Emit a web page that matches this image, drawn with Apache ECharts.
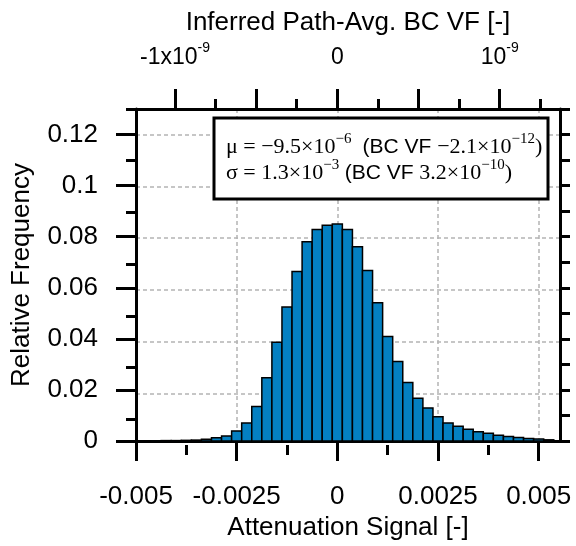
<!DOCTYPE html>
<html><head><meta charset="utf-8">
<script src="https://cdn.jsdelivr.net/npm/echarts@6/dist/echarts.min.js"></script>
<style>html,body{margin:0;padding:0;background:#fff}#c{width:576px;height:546px}</style>
</head><body><div id="c"></div>
<script>
// ---- data ----
const binCenters = [-0.0045,-0.00425,-0.004,-0.00375,-0.0035,-0.00325,-0.003,-0.00275,-0.0025,-0.00225,
  -0.002,-0.00175,-0.0015,-0.00125,-0.001,-0.00075,-0.0005,-0.00025,0,
  0.00025,0.0005,0.00075,0.001,0.00125,0.0015,0.00175,0.002,0.00225,0.0025,
  0.00275,0.003,0.00325,0.0035,0.00375,0.004,0.00425,0.0045,0.00475,0.005,0.00525];
const relFreq = [0.0001,0.0002,0.0002,0.0003,0.0004,0.0007,0.0013,0.0020,0.0040,0.0071,
  0.0135,0.0248,0.0387,0.0525,0.0664,0.0780,0.0828,0.0845,0.0850,
  0.0828,0.0761,0.0668,0.0542,0.0409,0.0312,0.0229,0.0168,0.0130,0.0095,
  0.0071,0.0058,0.0046,0.0037,0.0031,0.0023,0.0018,0.0014,0.0010,0.0008,0.0005];
const binWidth = 0.00025;

const bottomTicks = [-0.005,-0.0025,0,0.0025,0.005];
const bottomTickLabels = ['-0.005','-0.0025','0','0.0025','0.005'];
const bottomMinor = [-0.00375,-0.00125,0.00125,0.00375];
const leftTicks = [0,0.02,0.04,0.06,0.08,0.1,0.12];
const leftTickLabels = ['0','0.02','0.04','0.06','0.08','0.1','0.12'];
const leftMinor = [0.01,0.03,0.05,0.07,0.09,0.11,0.13];
const rightTicks = [0,0.01,0.02,0.03,0.04,0.05,0.06,0.07,0.08,0.09,0.1,0.11,0.12,0.13];
const topTicks = [-1e-9,-0.5e-9,0,0.5e-9,1e-9];
const topLabelValues = [-1e-9,0,1e-9];
const topLabelBase = ['-1x10','0','10'];
const topLabelExp = ['-9','','-9'];
const topMinor = [-0.75e-9,-0.25e-9,0.25e-9,0.75e-9,1.25e-9];

const X_MIN = -0.005, X_MAX = 0.00553, Y_MIN = 0, Y_MAX = 0.13;
const VF_PER_SIGNAL = 2.48e-7;

// ---- chart ----
const SANS = 'Liberation Sans, Arial, sans-serif';
const SERIF = 'Liberation Serif, Times New Roman, serif';
const BLACK = '#000';
const chart = echarts.init(document.getElementById('c'), null, {renderer:'canvas'});

function idxNear(arr, v, tol) {
  for (let i = 0; i < arr.length; i++) if (Math.abs(arr[i] - v) < tol) return i;
  return -1;
}
const thick = {color:BLACK, width:3};
const G = {left:136, right:16, top:109, bottom:101, containLabel:false};
function hiddenAxis(extra) {
  return Object.assign({type:'value', axisLine:{show:false, onZero:false}, axisTick:{show:false},
    axisLabel:{show:false}, splitLine:{show:false}}, extra);
}
function tickOnly(extra, values, len) {
  return hiddenAxis(Object.assign(extra, {axisTick:{show:true, customValues:values, length:len, inside:false, lineStyle:thick}}));
}
const gridLine = {show:true, showMinLine:false, showMaxLine:false,
  lineStyle:{color:'#b4b4b4', width:1.5, type:[4,3]}};

const option = {
  backgroundColor:'#fff',
  animation:false,
  grid:[Object.assign({}, G), Object.assign({}, G), Object.assign({}, G)],
  xAxis:[
    // 0: grid lines (grid 0)
    hiddenAxis({gridIndex:0, min:X_MIN, max:X_MAX, interval:0.0025, position:'bottom', splitLine:gridLine}),
    // 1: bottom main (grid 1)
    {type:'value', gridIndex:1, min:X_MIN, max:X_MAX, position:'bottom',
     axisLine:{show:true, onZero:false, lineStyle:thick},
     axisTick:{show:true, customValues:bottomTicks, length:20, inside:false, lineStyle:thick},
     axisLabel:{show:true, customValues:bottomTicks, margin:43, color:BLACK, fontSize:26, fontFamily:SANS,
       formatter:(v)=>{const i=idxNear(bottomTicks,v,1e-9); return i>=0?bottomTickLabels[i]:'';}},
     splitLine:{show:false},
     name:'Attenuation Signal [-]', nameLocation:'middle', nameGap:72,
     nameTextStyle:{color:BLACK, fontSize:26, fontFamily:SANS}},
    // 2: top main (grid 1)
    {type:'value', gridIndex:1, min:X_MIN*VF_PER_SIGNAL, max:X_MAX*VF_PER_SIGNAL, position:'top',
     axisLine:{show:true, onZero:false, lineStyle:thick},
     axisTick:{show:true, customValues:topTicks, length:20, inside:false, lineStyle:thick},
     axisLabel:{show:true, customValues:topLabelValues, margin:34, color:BLACK, fontFamily:SANS,
       formatter:(v)=>{const i=idxNear(topLabelValues,v,1e-13); if(i<0) return '';
         return topLabelExp[i] ? '{b|'+topLabelBase[i]+'}{s|'+topLabelExp[i]+'}' : '{b|'+topLabelBase[i]+'}';},
       rich:{b:{fontSize:23, lineHeight:34, fontFamily:SANS, color:BLACK, verticalAlign:'middle'},
             s:{fontSize:14, lineHeight:14, fontFamily:SANS, color:BLACK, verticalAlign:'top'}}},
     splitLine:{show:false},
     name:'Inferred Path-Avg. BC VF [-]', nameLocation:'middle', nameGap:69,
     nameTextStyle:{color:BLACK, fontSize:26, fontFamily:SANS}},
    // 3: bottom minor (grid 2)
    tickOnly({gridIndex:2, min:X_MIN, max:X_MAX, position:'bottom'}, bottomMinor, 10),
    // 4: top minor (grid 2)
    tickOnly({gridIndex:2, min:X_MIN*VF_PER_SIGNAL, max:X_MAX*VF_PER_SIGNAL, position:'top'}, topMinor, 10)
  ],
  yAxis:[
    // 0: grid lines (grid 0)
    hiddenAxis({gridIndex:0, min:Y_MIN, max:Y_MAX, interval:0.02, position:'left', splitLine:gridLine}),
    // 1: left main (grid 1)
    {type:'value', gridIndex:1, min:Y_MIN, max:Y_MAX, position:'left',
     axisLine:{show:true, onZero:false, lineStyle:thick},
     axisTick:{show:true, customValues:leftTicks, length:20, inside:false, lineStyle:thick},
     axisLabel:{show:true, customValues:leftTicks, margin:38, color:BLACK, fontSize:26, fontFamily:SANS,
       formatter:(v)=>{const i=idxNear(leftTicks,v,1e-6); return i>=0?leftTickLabels[i]:'';}},
     splitLine:{show:false},
     name:'Relative Frequency', nameLocation:'middle', nameGap:101, nameRotate:90,
     nameTextStyle:{color:BLACK, fontSize:26, fontFamily:SANS}},
    // 2: right (grid 1)
    {type:'value', gridIndex:1, min:Y_MIN, max:Y_MAX, position:'right',
     axisLine:{show:true, onZero:false, lineStyle:thick},
     axisTick:{show:true, customValues:rightTicks, length:10, inside:false, lineStyle:thick},
     axisLabel:{show:false}, splitLine:{show:false}},
    // 3: left minor (grid 2)
    tickOnly({gridIndex:2, min:Y_MIN, max:Y_MAX, position:'left'}, leftMinor, 10)
  ],
  series:[{
    type:'custom', xAxisIndex:1, yAxisIndex:1, clip:false,
    data: binCenters.map((c,i)=>[c, relFreq[i]]),
    encode:{x:0, y:1},
    renderItem:(params, api)=>{
      const c = api.value(0), v = api.value(1);
      const p1 = api.coord([c - binWidth/2, v]);
      const p2 = api.coord([c + binWidth/2, 0]);
      return {type:'rect', shape:{x:p1[0], y:p1[1], width:p2[0]-p1[0], height:p2[1]-p1[1]},
        style:{fill:'#0480c2', stroke:BLACK, lineWidth:1.5}};
    }
  }],
  graphic:[
    {type:'rect', z:100, shape:{x:214, y:118, width:334, height:81},
     style:{fill:'#fff', stroke:BLACK, lineWidth:3}},
    {type:'text', z:101, x:226, y:147,
     style:{text:'{m|μ = −9.5×10}{s|−6}{m|  }{a|(BC VF }{m|−2.1×10}{s|−12}{m|)}',
       verticalAlign:'middle', align:'left',
       rich:{m:{fontFamily:SERIF, fontSize:22, lineHeight:30, verticalAlign:'middle', fill:BLACK},
             a:{fontFamily:SANS, fontSize:21, lineHeight:30, verticalAlign:'middle', fill:BLACK},
             s:{fontFamily:SERIF, fontSize:15, lineHeight:15, verticalAlign:'top', fill:BLACK}}}},
    {type:'text', z:101, x:226, y:173,
     style:{text:'{m|σ = 1.3×10}{s|−3}{m| }{a|(BC VF }{m|3.2×10}{s|−10}{m|)}',
       verticalAlign:'middle', align:'left',
       rich:{m:{fontFamily:SERIF, fontSize:22, lineHeight:30, verticalAlign:'middle', fill:BLACK},
             a:{fontFamily:SANS, fontSize:21, lineHeight:30, verticalAlign:'middle', fill:BLACK},
             s:{fontFamily:SERIF, fontSize:15, lineHeight:15, verticalAlign:'top', fill:BLACK}}}}
  ]
};
chart.setOption(option);
</script>
</body></html>
